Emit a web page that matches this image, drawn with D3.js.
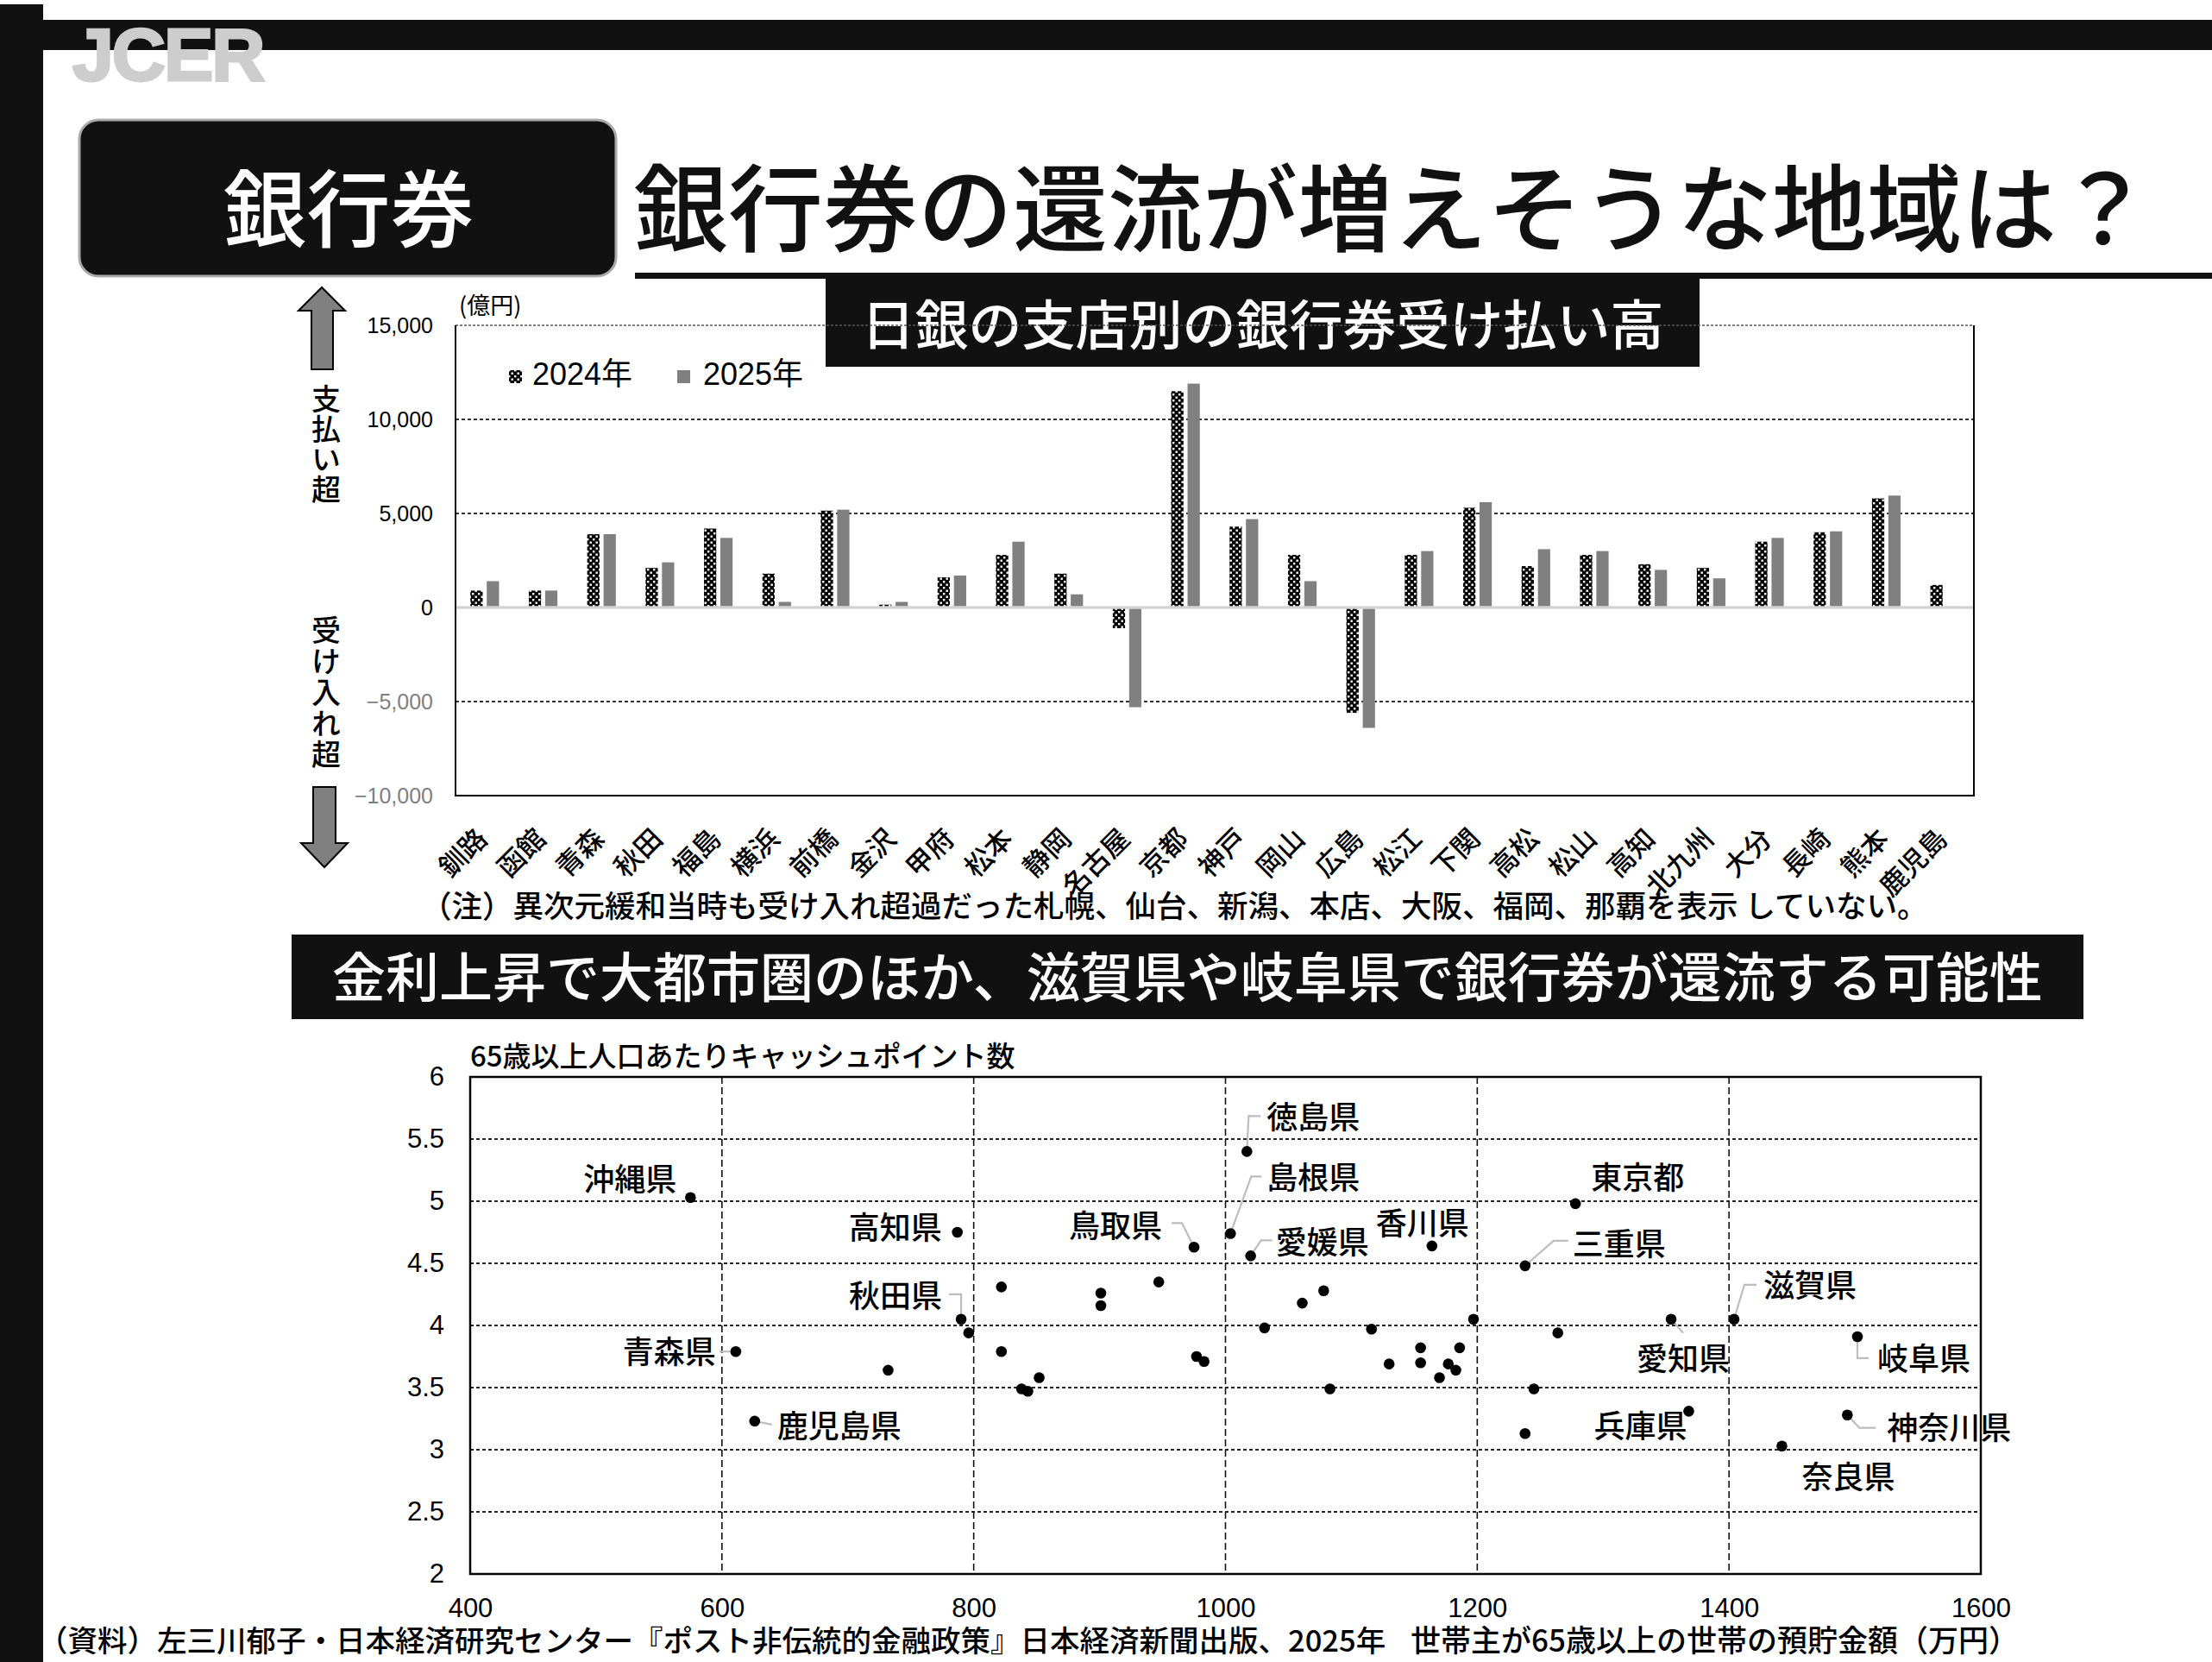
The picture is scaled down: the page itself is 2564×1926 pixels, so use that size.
<!DOCTYPE html>
<html><head><meta charset="utf-8">
<script src="https://cdn.jsdelivr.net/npm/d3@7"></script>
<style>html,body{margin:0;padding:0;background:#fff;} svg{display:block;}</style>
</head><body>
<script>
// ---------------- DATA ----------------
const branches = ["釧路","函館","青森","秋田","福島","横浜","前橋","金沢","甲府","松本","静岡","名古屋","京都","神戸","岡山","広島","松江","下関","高松","松山","高知","北九州","大分","長崎","熊本","鹿児島"];
const pay2024 = [900, 900, 3900, 2100, 4200, 1800, 5150, 150, 1600, 2800, 1800, -1100, 11500, 4300, 2800, -5600, 2800, 5300, 2200, 2800, 2300, 2100, 3500, 4000, 5800, 1200];
const pay2025 = [1400, 900, 3900, 2400, 3700, 300, 5200, 300, 1700, 3500, 700, -5300, 11900, 4700, 1400, -6400, 3000, 5600, 3100, 3000, 2000, 1550, 3700, 4050, 5950, 50];
const seriesNames = ["2024年", "2025年"];
const barTicks = [-10000, -5000, 0, 5000, 10000, 15000];

const prefNames = ["沖縄県","高知県","鳥取県","","","","","秋田県","","青森県","","","","","","鹿児島県","","","徳島県","島根県","愛媛県","香川県","東京都","三重県","滋賀県","愛知県","岐阜県","","","","","","","","","","","","","","","","兵庫県","","神奈川県","奈良県"];
const savings =    [575, 787, 975, 822, 901, 901, 947, 790, 796, 611, 822, 732, 838, 843, 852, 626, 977, 983, 1017, 1004, 1020, 1164, 1278, 1238, 1404, 1354, 1502, 1078, 1061, 1031, 1116, 1197, 1264, 1130, 1155, 1155, 1186, 1177, 1183, 1170, 1083, 1245, 1368, 1238, 1494, 1442];
const cashPoints = [5.03, 4.75, 4.63, 4.31, 4.26, 4.16, 4.35, 4.05, 3.94, 3.79, 3.79, 3.64, 3.49, 3.47, 3.58, 3.23, 3.75, 3.71, 5.40, 4.74, 4.56, 4.64, 4.98, 4.48, 4.05, 4.05, 3.91, 4.28, 4.18, 3.98, 3.97, 4.05, 3.94, 3.69, 3.82, 3.70, 3.82, 3.69, 3.64, 3.58, 3.49, 3.49, 3.31, 3.13, 3.28, 3.03];
const scatterXTicks = [400, 600, 800, 1000, 1200, 1400, 1600];
const scatterYTicks = [2, 2.5, 3, 3.5, 4, 4.5, 5, 5.5, 6];

// ---------------- LAYOUT ----------------
const W = 2564, H = 1926;
const JP = "'Noto Sans CJK JP', 'Noto Sans', sans-serif";
const NUM = "'Liberation Sans', Arial, sans-serif";
const JPW = 500;

// annotation placement (pixel offsets from each dot)
const labelLayout = {
  "沖縄県":   {dx:-16, dy:-8,  anchor:"end"},
  "高知県":   {dx:-18, dy:8,   anchor:"end"},
  "鳥取県":   {dx:-37, dy:-11, anchor:"end",   leader:[[0,0],[-14,-28],[-26,-28]]},
  "秋田県":   {dx:-22, dy:-14, anchor:"end",   leader:[[0,0],[0,-29],[-14,-29]]},
  "青森県":   {dx:-23, dy:14,  anchor:"end",   leader:[[0,0],[-19,0]]},
  "鹿児島県": {dx:26,  dy:19,  anchor:"start", leader:[[0,0],[20,4]]},
  "徳島県":   {dx:23,  dy:-26, anchor:"start", leader:[[0,0],[2,-41],[16,-41]]},
  "島根県":   {dx:42,  dy:-51, anchor:"start", leader:[[0,0],[24,-66],[36,-66]]},
  "愛媛県":   {dx:29,  dy:-2,  anchor:"start", leader:[[0,0],[12,-18],[25,-18]]},
  "香川県":   {dx:-65, dy:-13, anchor:"start"},
  "東京都":   {dx:18,  dy:-17, anchor:"start"},
  "三重県":   {dx:55,  dy:-12, anchor:"start", leader:[[0,0],[33,-29],[50,-29]]},
  "滋賀県":   {dx:34,  dy:-26, anchor:"start", leader:[[0,0],[12,-40],[26,-40]]},
  "愛知県":   {dx:-40, dy:59,  anchor:"start", leader:[[0,0],[14,16]]},
  "岐阜県":   {dx:23,  dy:39,  anchor:"start", leader:[[0,0],[0,25],[13,25]]},
  "兵庫県":   {dx:-110,dy:31,  anchor:"start"},
  "神奈川県": {dx:46,  dy:28,  anchor:"start", leader:[[0,0],[14,15],[33,15]]},
  "奈良県":   {dx:23,  dy:49,  anchor:"start"}
};

const svg = d3.select("body").append("svg").attr("width", W).attr("height", H);
svg.append("rect").attr("width", W).attr("height", H).attr("fill", "#fff");

const defs = svg.append("defs");
const pat = defs.append("pattern").attr("id", "chain").attr("patternUnits", "userSpaceOnUse")
  .attr("width", 7).attr("height", 7);
pat.append("rect").attr("width", 7).attr("height", 7).attr("fill", "#000");
pat.append("rect").attr("x", 1).attr("y", 1).attr("width", 2.4).attr("height", 2.4).attr("fill", "#fff");
pat.append("rect").attr("x", 4.5).attr("y", 4.5).attr("width", 2.4).attr("height", 2.4).attr("fill", "#fff");

// ---------------- HEADER ----------------
svg.append("rect").attr("x", 0).attr("y", 5).attr("width", 50).attr("height", H - 5).attr("fill", "#111");
svg.append("rect").attr("x", 50).attr("y", 23).attr("width", W - 50).attr("height", 35).attr("fill", "#111");
svg.append("text").attr("x", 84).attr("y", 93).text("JCER")
  .attr("font-family", NUM).attr("font-weight", "bold").attr("font-size", 86)
  .attr("letter-spacing", -2).attr("fill", "#cdcdcd").attr("stroke", "#cdcdcd").attr("stroke-width", 3);

svg.append("rect").attr("x", 92).attr("y", 139).attr("width", 622).attr("height", 181).attr("rx", 22)
  .attr("fill", "#111").attr("stroke", "#aaa").attr("stroke-width", 3);
svg.append("text").attr("x", 404).attr("y", 278).attr("text-anchor", "middle").text("銀行券")
  .attr("font-family", JP).attr("font-weight", JPW).attr("font-size", 97).attr("fill", "#fff");

svg.append("text").attr("x", 734).attr("y", 283).text("銀行券の還流が増えそうな地域は？")
  .attr("font-family", JP).attr("font-weight", JPW).attr("font-size", 110).attr("fill", "#111");
svg.append("rect").attr("x", 736).attr("y", 316).attr("width", W - 736).attr("height", 7).attr("fill", "#111");

function titleBox(x, y, w, h, txt, base) {
  svg.append("rect").attr("x", x).attr("y", y).attr("width", w).attr("height", h).attr("fill", "#111");
  svg.append("text").attr("x", x + w / 2).attr("y", base).attr("text-anchor", "middle").text(txt)
    .attr("font-family", JP).attr("font-weight", JPW).attr("font-size", 62).attr("fill", "#fff");
}
titleBox(957, 323, 1013, 102, "日銀の支店別の銀行券受け払い高", 400);

// ---------------- BAR CHART ----------------
const bL = 528, bR = 2288, bT = 377, bB = 922;
const yB = d3.scaleLinear().domain([-10000, 15000]).range([bB, bT]);
const xB = d3.scaleBand().domain(branches).range([bL, bR]);
const bw = xB.bandwidth() * 0.21, gap = xB.bandwidth() * 0.07;

const gB = svg.append("g");
gB.selectAll("line.grid").data([10000, 5000, -5000]).join("line")
  .attr("x1", bL).attr("x2", bR).attr("y1", d => yB(d)).attr("y2", d => yB(d))
  .attr("stroke", "#333").attr("stroke-width", 2).attr("stroke-dasharray", "4,3");
gB.append("line").attr("x1", bL).attr("x2", bR).attr("y1", yB(15000)).attr("y2", yB(15000))
  .attr("stroke", "#555").attr("stroke-width", 1.5).attr("stroke-dasharray", "3,2");

const barData = branches.map((b, i) => ({b, v: [pay2024[i], pay2025[i]]}));
barData.forEach(d => {
  d.v.forEach((v, k) => {
    const c = xB(d.b) + xB.bandwidth() / 2;
    const x0 = k === 0 ? c - gap / 2 - bw : c + gap / 2;
    gB.append("rect").attr("x", x0).attr("width", bw)
      .attr("y", yB(Math.max(0, v))).attr("height", Math.abs(yB(v) - yB(0)))
      .attr("fill", k === 0 ? "url(#chain)" : "#808080");
  });
});
gB.append("line").attr("x1", bL).attr("x2", bR).attr("y1", yB(0)).attr("y2", yB(0))
  .attr("stroke", "#d4d4d4").attr("stroke-width", 3.5);
gB.append("path").attr("d", `M${bL},${bT}V${bB}H${bR}V${bT}`).attr("fill", "none")
  .attr("stroke", "#000").attr("stroke-width", 2);

const yAxB = svg.append("g").attr("transform", `translate(${bL},0)`)
  .call(d3.axisLeft(yB).tickValues(barTicks).tickSize(0).tickPadding(26).tickFormat(d3.format(",")));
yAxB.select(".domain").remove();
yAxB.selectAll("text").attr("font-family", NUM).attr("font-size", 25)
  .attr("fill", d => d < 0 ? "#7f7f7f" : "#000");

svg.append("text").attr("x", 532).attr("y", 364).text("(億円)")
  .attr("font-family", JP).attr("font-size", 27).attr("fill", "#000");

svg.selectAll("text.xl").data(branches).join("text").attr("class", "xl")
  .attr("transform", d => `translate(${xB(d) + xB.bandwidth() / 2 + 5},974) rotate(-45)`)
  .attr("text-anchor", "end").text(d => d)
  .attr("font-family", JP).attr("font-weight", JPW).attr("font-size", 31.5).attr("fill", "#000");

const lg = svg.append("g");
[[590, 617], [785, 815]].forEach((p, k) => {
  lg.append("rect").attr("x", p[0]).attr("y", 429).attr("width", 15).attr("height", 15)
    .attr("fill", k === 0 ? "url(#chain)" : "#808080");
  lg.append("text").attr("x", p[1]).attr("y", 446).text(seriesNames[k])
    .attr("font-family", NUM + "," + JP).attr("font-size", 36).attr("fill", "#000");
});

function vtext(str, cx, y0, spacing) {
  svg.append("text").attr("x", cx).attr("y", y0).text(str)
    .style("writing-mode", "vertical-rl").style("letter-spacing", spacing + "px")
    .attr("font-family", JP).attr("font-weight", JPW).attr("font-size", 34).attr("fill", "#000");
}
vtext("支払い超", 378, 445, 1);
vtext("受け入れ超", 378, 713, 2);
svg.append("path").attr("d", "M373,333 L400,360 L386,360 L386,428 L361,428 L361,360 L346,360 Z")
  .attr("fill", "#808080").attr("stroke", "#000").attr("stroke-width", 2);
svg.append("path").attr("d", "M363,912 L389,912 L389,977 L403,977 L376,1005 L349,977 L363,977 Z")
  .attr("fill", "#808080").attr("stroke", "#000").attr("stroke-width", 2);

svg.append("text").attr("x", 488).attr("y", 1063)
  .text("（注）異次元緩和当時も受け入れ超過だった札幌、仙台、新潟、本店、大阪、福岡、那覇を表示 していない。")
  .attr("font-family", JP).attr("font-weight", JPW).attr("font-size", 35.5).attr("fill", "#000");

titleBox(338, 1083, 2077, 98, "金利上昇で大都市圏のほか、滋賀県や岐阜県で銀行券が還流する可能性", 1156);

// ---------------- SCATTER ----------------
const sL = 545, sR = 2296, sT = 1248, sB = 1824;
const xS = d3.scaleLinear().domain([400, 1600]).range([sL, sR]);
const yS = d3.scaleLinear().domain([2, 6]).range([sB, sT]);
const gS = svg.append("g");
gS.selectAll("line.hg").data(scatterYTicks.filter(d => d > 2 && d < 6)).join("line")
  .attr("x1", sL).attr("x2", sR).attr("y1", d => yS(d)).attr("y2", d => yS(d))
  .attr("stroke", "#222").attr("stroke-width", 2).attr("stroke-dasharray", "4,3");
gS.selectAll("line.vg").data(scatterXTicks.filter(d => d > 400 && d < 1600)).join("line")
  .attr("y1", sT).attr("y2", sB).attr("x1", d => xS(d)).attr("x2", d => xS(d))
  .attr("stroke", "#111").attr("stroke-width", 1.6).attr("stroke-dasharray", "8,4");
gS.append("rect").attr("x", sL).attr("y", sT).attr("width", sR - sL).attr("height", sB - sT)
  .attr("fill", "none").attr("stroke", "#000").attr("stroke-width", 2.5);

const yAxS = svg.append("g").attr("transform", `translate(${sL},0)`)
  .call(d3.axisLeft(yS).tickValues(scatterYTicks).tickSize(0).tickPadding(30).tickFormat(d => String(d)));
yAxS.select(".domain").remove();
yAxS.selectAll("text").attr("font-family", NUM).attr("font-size", 31).attr("fill", "#000");
const xAxS = svg.append("g").attr("transform", `translate(0,${sB})`)
  .call(d3.axisBottom(xS).tickValues(scatterXTicks).tickSize(0).tickPadding(28).tickFormat(d => String(d)));
xAxS.select(".domain").remove();
xAxS.selectAll("text").attr("font-family", NUM).attr("font-size", 31).attr("fill", "#000");

svg.append("text").attr("x", 545).attr("y", 1236).text("65歳以上人口あたりキャッシュポイント数")
  .attr("font-family", JP).attr("font-weight", JPW).attr("font-size", 33).attr("fill", "#000");

const pts = savings.map((s, i) => ({x: s, y: cashPoints[i], name: prefNames[i]}));
pts.filter(p => p.name && labelLayout[p.name] && labelLayout[p.name].leader).forEach(p => {
  const L = labelLayout[p.name], px = xS(p.x), py = yS(p.y);
  gS.append("polyline").attr("points", L.leader.map(q => `${px + q[0]},${py + q[1]}`).join(" "))
    .attr("fill", "none").attr("stroke", "#bdbdbd").attr("stroke-width", 2.2);
});
gS.selectAll("circle").data(pts).join("circle")
  .attr("cx", d => xS(d.x)).attr("cy", d => yS(d.y)).attr("r", 6.3).attr("fill", "#000");
gS.selectAll("text.pl").data(pts.filter(p => p.name)).join("text").attr("class", "pl")
  .attr("x", d => xS(d.x) + labelLayout[d.name].dx)
  .attr("y", d => yS(d.y) + labelLayout[d.name].dy)
  .attr("text-anchor", d => labelLayout[d.name].anchor)
  .text(d => d.name).attr("font-family", JP).attr("font-weight", JPW).attr("font-size", 36).attr("fill", "#000");

svg.append("text").attr("x", 44).attr("y", 1914)
  .text("（資料）左三川郁子・日本経済研究センター『ポスト非伝統的金融政策』日本経済新聞出版、2025年")
  .attr("font-family", JP).attr("font-weight", JPW).attr("font-size", 34.5).attr("fill", "#000");
svg.append("text").attr("x", 2340).attr("y", 1914).attr("text-anchor", "end")
  .text("世帯主が65歳以上の世帯の預貯金額（万円）")
  .attr("font-family", JP).attr("font-weight", JPW).attr("font-size", 35).attr("fill", "#000");
</script>
</body></html>
